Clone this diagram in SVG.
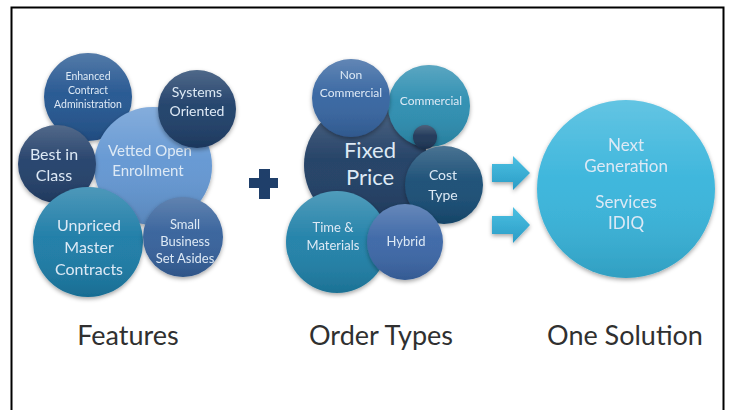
<svg xmlns="http://www.w3.org/2000/svg" width="733" height="410" viewBox="0 0 733 410">
  <style>
    .t { font-family: Lato, "Open Sans", "Liberation Sans", sans-serif; fill: #dde9f5; text-anchor: middle; }
    .cap { font-family: Lato, "Open Sans", "Liberation Sans", sans-serif; fill: #303030; text-anchor: middle; font-size: 27px; font-weight: 400; }
    .gloss { fill: url(#gloss); }
    .bubble { filter: url(#shadow); }
  </style>
  <defs>
    <linearGradient id="gloss" x1="0" y1="0" x2="0" y2="1">
      <stop offset="0" stop-color="#ffffff" stop-opacity="0.22"/>
      <stop offset="0.45" stop-color="#ffffff" stop-opacity="0.04"/>
      <stop offset="1" stop-color="#000000" stop-opacity="0.12"/>
    </linearGradient>
    <linearGradient id="arrowFill" x1="0" y1="0" x2="0" y2="1">
      <stop offset="0" stop-color="#4cc0e2"/>
      <stop offset="1" stop-color="#2a9cc6"/>
    </linearGradient>
    <filter id="shadow" x="-20%" y="-20%" width="140%" height="140%">
      <feDropShadow dx="0" dy="2" stdDeviation="2" flood-color="#000" flood-opacity="0.35"/>
    </filter>
  </defs>

  <!-- frame -->
  <rect x="11.5" y="7.5" width="712" height="420" fill="none" stroke="#000" stroke-width="2"/>

  <!-- Features cluster -->
  <g id="enhanced" class="bubble">
    <circle cx="88" cy="97" r="44" fill="#235590"/>
    <circle cx="88" cy="97" r="44" class="gloss"/>
    <text class="t" font-size="10.5"><tspan x="88" y="80">Enhanced</tspan><tspan x="88" y="94">Contract</tspan><tspan x="88" y="108">Administration</tspan></text>
  </g>
  <g id="vetted" class="bubble">
    <circle cx="153" cy="166" r="59" fill="#6296d2"/>
    <circle cx="153" cy="166" r="59" class="gloss"/>
    <text class="t" font-size="15"><tspan x="150" y="156">Vetted Open</tspan><tspan x="148" y="176">Enrollment</tspan></text>
  </g>
  <g id="systems" class="bubble">
    <circle cx="197" cy="109" r="39" fill="#1e3e68"/>
    <circle cx="197" cy="109" r="39" class="gloss"/>
    <text class="t" font-size="14"><tspan x="197" y="97">Systems</tspan><tspan x="197" y="116">Oriented</tspan></text>
  </g>
  <g id="best" class="bubble">
    <circle cx="57" cy="164" r="39" fill="#223f69"/>
    <circle cx="57" cy="164" r="39" class="gloss"/>
    <text class="t" font-size="16"><tspan x="54" y="160">Best in</tspan><tspan x="54" y="181">Class</tspan></text>
  </g>
  <g id="unpriced" class="bubble">
    <circle cx="88" cy="242" r="55" fill="#1b7ba6"/>
    <circle cx="88" cy="242" r="55" class="gloss"/>
    <text class="t" font-size="16"><tspan x="89" y="231">Unpriced</tspan><tspan x="89" y="253">Master</tspan><tspan x="89" y="275">Contracts</tspan></text>
  </g>
  <g id="small" class="bubble">
    <circle cx="183" cy="237" r="40" fill="#34609a"/>
    <circle cx="183" cy="237" r="40" class="gloss"/>
    <text class="t" font-size="13"><tspan x="185" y="229">Small</tspan><tspan x="185" y="246">Business</tspan><tspan x="185" y="263">Set Asides</tspan></text>
  </g>

  <!-- plus sign -->
  <g id="plus">
    <path d="M259 169 H270 V178 H278 V188 H270 V199 H259 V188 H249 V178 H259 Z" fill="#1f3f6a"/>
  </g>

  <!-- Order Types cluster -->
  <g id="fixed" class="bubble">
    <circle cx="366" cy="165" r="62" fill="#1f3d63"/>
    <circle cx="366" cy="165" r="62" class="gloss"/>
  </g>
  <g id="commercial" class="bubble">
    <circle cx="429" cy="106" r="41" fill="#2b8db0"/>
    <circle cx="429" cy="106" r="41" class="gloss"/>
    <text class="t" font-size="12"><tspan x="431" y="105">Commercial</tspan></text>
  </g>
  <g id="noncommercial" class="bubble">
    <circle cx="351" cy="98" r="39" fill="#3564a0"/>
    <circle cx="351" cy="98" r="39" class="gloss"/>
    <text class="t" font-size="12"><tspan x="351" y="79">Non</tspan><tspan x="351" y="97">Commercial</tspan></text>
  </g>
  <g id="fixedlabel">
    <text class="t" font-size="22"><tspan x="370" y="158">Fixed</tspan><tspan x="370" y="185">Price</tspan></text>
  </g>
  <g id="knob" class="bubble">
    <circle cx="425" cy="137" r="12" fill="#1c3556"/>
    <circle cx="425" cy="137" r="12" class="gloss"/>
  </g>
  <g id="cost" class="bubble">
    <circle cx="444" cy="185" r="39" fill="#174c74"/>
    <circle cx="444" cy="185" r="39" class="gloss"/>
    <text class="t" font-size="14"><tspan x="443" y="180">Cost</tspan><tspan x="443" y="200">Type</tspan></text>
  </g>
  <g id="timematerials" class="bubble">
    <circle cx="337" cy="242" r="51" fill="#1f80a8"/>
    <circle cx="337" cy="242" r="51" class="gloss"/>
    <text class="t" font-size="13"><tspan x="333" y="232">Time &amp;</tspan><tspan x="333" y="250">Materials</tspan></text>
  </g>
  <g id="hybrid" class="bubble">
    <circle cx="405" cy="242" r="38" fill="#3b66a6"/>
    <circle cx="405" cy="242" r="38" class="gloss"/>
    <text class="t" font-size="13"><tspan x="406" y="246">Hybrid</tspan></text>
  </g>

  <!-- connectors -->
  <g id="connectors">
    <path d="M492 164 H513 V156 L530 173 L513 190 V182 H492 Z" fill="url(#arrowFill)" filter="url(#shadow)"/>
    <path d="M492 216 H513 V207 L530 225 L513 243 V234 H492 Z" fill="url(#arrowFill)" filter="url(#shadow)"/>
  </g>

  <!-- One Solution -->
  <g id="nextgen" class="bubble">
    <circle cx="626" cy="189" r="89" fill="#37b4db"/>
    <circle cx="626" cy="189" r="89" class="gloss"/>
    <text class="t" font-size="17"><tspan x="626" y="151">Next</tspan><tspan x="626" y="172">Generation</tspan><tspan x="626" y="208">Services</tspan><tspan x="626" y="229">IDIQ</tspan></text>
  </g>

  <!-- column captions -->
  <g id="captions">
    <text class="cap" x="128" y="345">Features</text>
    <text class="cap" x="381" y="345">Order Types</text>
    <text class="cap" x="625" y="345">One Solution</text>
  </g>
</svg>
